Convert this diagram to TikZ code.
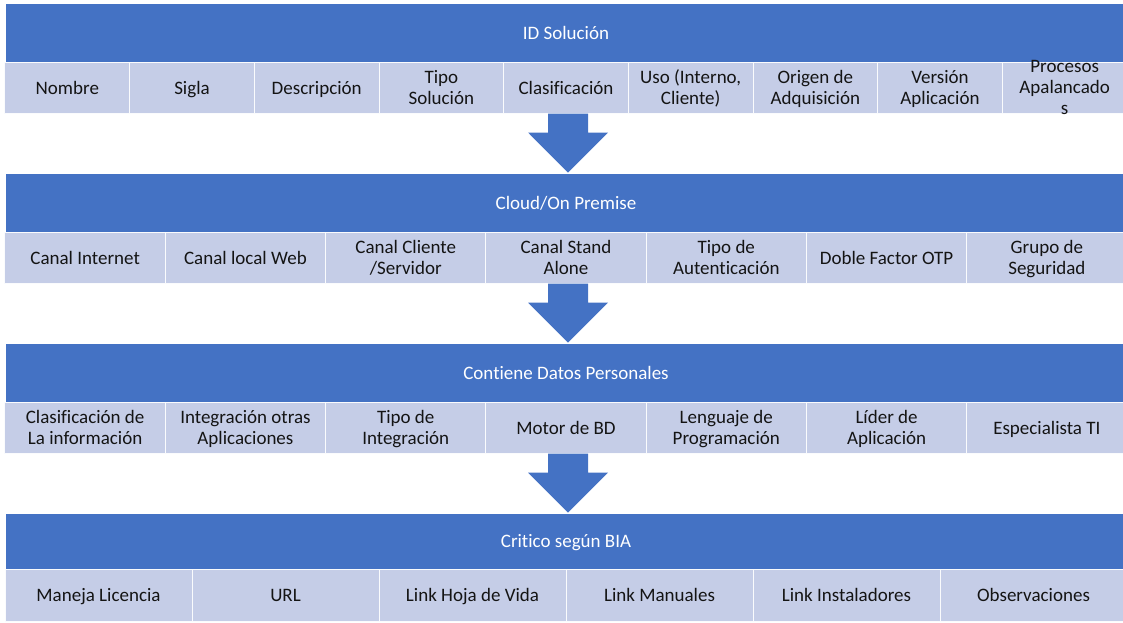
\documentclass[tikz,border=0pt]{standalone}
\usepackage{fontspec}
\setmainfont{Carlito}[Ligatures=CommonOff]
\usetikzlibrary{calc}
\definecolor{hdrblue}{HTML}{4472C4}
\definecolor{cellfill}{RGB}{197,205,231}
\definecolor{celltext}{RGB}{20,20,20}
\newcommand\cellstrut{\rule[-4pt]{0pt}{21pt}}
\tikzset{
  txt/.style={inner sep=0pt, align=center, font=\fontsize{19}{21}\selectfont, execute at begin node=\cellstrut, execute at end node=\cellstrut},
  hdr/.style={rectangle, fill=hdrblue, draw=white, line width=0.8pt, minimum width=1122pt, minimum height=59pt, txt, text=white},
  cell/.style={rectangle, fill=cellfill, draw=white!92!cellfill, line width=1pt, minimum height=51pt, inner sep=0pt},
  lbl/.style={txt, text=celltext},
  blockarrow/.style={fill=hdrblue, draw=none},
}
\begin{document}
\begin{tikzpicture}[x=1pt,y=-1pt]
\useasboundingbox (0,0) rectangle (1123,622);
% table 1
\node[hdr] (h1) at (566,32.5) {ID Solución};
\foreach \t/\d [count=\i] in {Nombre/0, Sigla/0, Descripción/0, {Tipo\\Solución}/2, Clasificación/0, {Uso (Interno,\\Cliente)}/2, {Origen de\\Adquisición}/2, {Versión\\Aplicación}/2, {Procesos\\Apalancado\\s}/2}
  {\node[cell, minimum width=124.67pt] (r1c\i) at ({5+(\i-0.5)*124.667},87.5) {};
   \node[lbl] (t1c\i) at ($(r1c\i.center)+(0,\d)$) {\t};}
% table 2
\node[hdr] (h2) at (566,202.5) {Cloud/On Premise};
\foreach \t/\d [count=\i] in {Canal Internet/0, Canal local Web/0, {Canal Cliente\\/Servidor}/2, {Canal Stand\\Alone}/2, {Tipo de\\Autenticación}/2, Doble Factor OTP/0, {Grupo de\\Seguridad}/2}
  {\node[cell, minimum width=160.29pt] (r2c\i) at ({5+(\i-0.5)*160.286},257.5) {};
   \node[lbl] (t2c\i) at ($(r2c\i.center)+(0,\d)$) {\t};}
% table 3
\node[hdr] (h3) at (566,372.5) {Contiene Datos Personales};
\foreach \t/\d [count=\i] in {{Clasificación de\\La información}/2, {Integración otras\\Aplicaciones}/2, {Tipo de\\Integración}/2, Motor de BD/0, {Lenguaje de\\Programación}/2, {Líder de\\Aplicación}/2, Especialista TI/0}
  {\node[cell, minimum width=160.29pt] (r3c\i) at ({5+(\i-0.5)*160.286},427.5) {};
   \node[lbl] (t3c\i) at ($(r3c\i.center)+(0,\d)$) {\t};}
% table 4
\node[hdr, minimum height=56pt] (h4) at (566,541) {Critico según BIA};
\foreach \t [count=\i] in {Maneja Licencia, URL, Link Hoja de Vida, Link Manuales, Link Instaladores, Observaciones}
  {\node[cell, minimum width=187pt, minimum height=52pt] (r4c\i) at ({5+(\i-0.5)*187},595) {};
   \node[lbl] (t4c\i) at (r4c\i.center) {\t};}
% arrows
\coordinate (a1s) at ($(r1c5.south)+(2,0)$);
\coordinate (a1e) at (a1s |- h2.north);
\coordinate (a2s) at ($(r2c4.south)+(2,0)$);
\coordinate (a2e) at (a2s |- h3.north);
\coordinate (a3s) at ($(r3c4.south)+(2,0)$);
\coordinate (a3e) at (a3s |- h4.north);
\foreach \s/\e in {a1s/a1e, a2s/a2e, a3s/a3e}
  \fill[blockarrow] ($(\s)+(-20,0)$) -- ($(\s)+(20,0)$) -- ($(\s)+(20,19)$) -- ($(\s)+(40,19)$) -- (\e) -- ($(\s)+(-40,19)$) -- ($(\s)+(-20,19)$) -- cycle;
\end{tikzpicture}
\end{document}
